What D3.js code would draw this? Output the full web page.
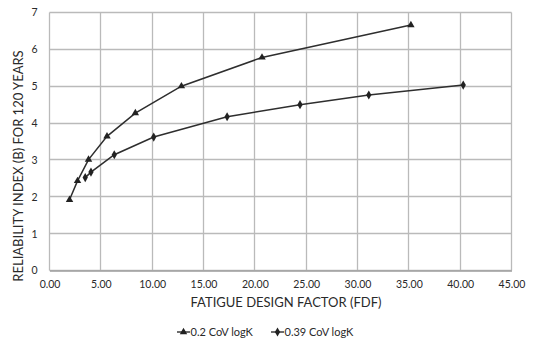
<!DOCTYPE html>
<html>
<head>
<meta charset="utf-8">
<script src="https://cdn.jsdelivr.net/npm/d3@7"></script>
<style>
  body { margin: 0; background: #fff; }
  text { font-family: Lato, "Open Sans", sans-serif; fill: #2a2a2a; }
</style>
</head>
<body>
<div id="chart"></div>
<script>
// Datos
var fdfLow = [1.95, 2.73, 3.8, 5.6, 8.36, 12.85, 20.7, 35.2];
var betaLow = [1.92, 2.43, 3.01, 3.64, 4.27, 5.0, 5.78, 6.66];
var fdfHigh = [3.48, 4.04, 6.31, 10.15, 17.3, 24.4, 31.1, 40.3];
var betaHigh = [2.52, 2.67, 3.14, 3.62, 4.17, 4.5, 4.76, 5.03];
var xTicks = [0, 5, 10, 15, 20, 25, 30, 35, 40, 45];
var yTicks = [0, 1, 2, 3, 4, 5, 6, 7];
var seriesNames = ["0.2 CoV logK", "0.39 CoV logK"];

var W = 534, H = 338;
var margin = {top: 12, right: 23, bottom: 68, left: 49};
var width = W - margin.left - margin.right;
var height = H - margin.top - margin.bottom;

var svg = d3.select("#chart").append("svg")
  .attr("width", W).attr("height", H);
var g = svg.append("g")
  .attr("transform", "translate(" + (margin.left + 0.5) + "," + (margin.top + 0.5) + ")");

var x = d3.scaleLinear().domain([0, 45]).range([0, width]);
var y = d3.scaleLinear().domain([0, 7]).range([height, 0]);

// Rejilla
var grid = g.append("g").attr("class", "grid");
grid.selectAll(".vx").data(xTicks).enter().append("line")
  .attr("class", "vx")
  .attr("x1", function(d) { return Math.round(x(d)); })
  .attr("x2", function(d) { return Math.round(x(d)); })
  .attr("y1", 0).attr("y2", height);
grid.selectAll(".hy").data(yTicks).enter().append("line")
  .attr("class", "hy")
  .attr("x1", 0).attr("x2", width)
  .attr("y1", function(d) { return Math.round(y(d)); })
  .attr("y2", function(d) { return Math.round(y(d)); });
grid.selectAll("line")
  .style("stroke", "#bababa").style("stroke-width", 1.3);

// Ejes
var xAxis = g.append("g")
  .attr("transform", "translate(0," + height + ")")
  .call(d3.axisBottom(x).tickValues(xTicks).tickSize(0).tickPadding(10)
    .tickFormat(d3.format(".2f")));
xAxis.select(".domain").attr("stroke", "#a0a0a0").style("stroke-width", 1.3);
xAxis.selectAll("text").style("font-size", "10.5px");

var yAxis = g.append("g")
  .call(d3.axisLeft(y).tickValues(yTicks).tickSize(0).tickPadding(12)
    .tickFormat(d3.format("d")));
yAxis.select(".domain").remove();
yAxis.selectAll("text").style("font-size", "10.5px");

// Titulos
svg.append("text")
  .attr("x", margin.left + width / 2 + 6).attr("y", 307)
  .style("text-anchor", "middle").style("font-size", "13px")
  .text("FATIGUE DESIGN FACTOR (FDF)");
svg.append("text")
  .attr("transform", "translate(23," + 166 + ") rotate(-90)")
  .style("text-anchor", "middle").style("font-size", "13px")
  .text("RELIABILITY INDEX (B) FOR 120 YEARS");

// Series
var line = d3.line()
  .x(function(d) { return x(d[0]); })
  .y(function(d) { return y(d[1]); });

var low = d3.zip(fdfLow, betaLow);
var high = d3.zip(fdfHigh, betaHigh);

[low, high].forEach(function(s) {
  g.append("path").datum(s).attr("d", line)
    .style("fill", "none").style("stroke", "#2e2e2e").style("stroke-width", 1.5);
});

var tri = d3.symbol().type(d3.symbolTriangle).size(24);
var dia = d3.symbol().type(d3.symbolDiamond).size(24);

g.selectAll(".tri").data(low).enter().append("path")
  .attr("class", "tri").attr("d", tri)
  .attr("transform", function(d) { return "translate(" + x(d[0]) + "," + y(d[1]) + ")"; })
  .style("fill", "#222");
g.selectAll(".dia").data(high).enter().append("path")
  .attr("class", "dia").attr("d", dia)
  .attr("transform", function(d) { return "translate(" + x(d[0]) + "," + y(d[1]) + ")"; })
  .style("fill", "#222");

// Leyenda
var legX = [177, 271];
var legY = 332;
seriesNames.forEach(function(name, i) {
  var lg = svg.append("g").attr("transform", "translate(" + legX[i] + "," + legY + ")");
  lg.append("line").attr("x1", 0).attr("x2", 13).attr("y1", 0).attr("y2", 0)
    .style("stroke", "#2e2e2e").style("stroke-width", 1.4);
  lg.append("path").attr("d", i === 0 ? tri : dia)
    .attr("transform", "translate(6.5,0)").style("fill", "#222");
  lg.append("text").attr("x", 13.5).attr("y", 0).attr("dy", "0.35em")
    .style("font-size", "11px").text(name);
});
</script>
</body>
</html>
